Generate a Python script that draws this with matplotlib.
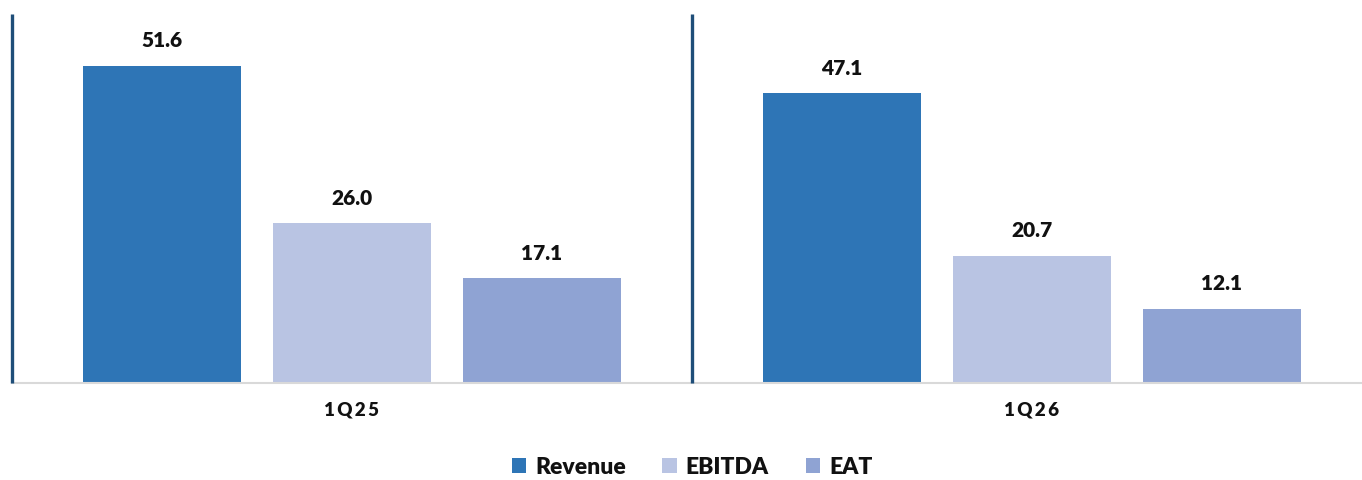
import matplotlib
matplotlib.use("Agg")
import matplotlib.pyplot as plt
import numpy as np

categories = ["1Q25", "1Q26"]
series_names = ["Revenue", "EBITDA", "EAT"]
revenue = [51.6, 47.1]
ebitda = [26.0, 20.7]
eat = [17.1, 12.1]
colors = ["#2E75B6", "#B9C4E3", "#8FA3D3"]

plt.rcParams['font.family'] = ['Lato', 'DejaVu Sans']
WEIGHT = "heavy"

fig = plt.figure(figsize=(13.62, 4.8), dpi=100)
W, H = 1362, 480
ax = fig.add_axes([12 / W, (H - 383) / H, 1350 / W, (383 - 14) / H])

x = np.arange(len(categories))
width = 158 / 680
offsets = [-190 / 680, 0, 190 / 680]
all_series = [revenue, ebitda, eat]

for vals, off, col, name in zip(all_series, offsets, colors, series_names):
    bars = ax.bar(x + off, vals, width, color=col, label=name, zorder=2)
    for b, v in zip(bars, vals):
        ax.annotate(f"{v:.1f}", (b.get_x() + b.get_width() / 2, v),
                    xytext=(0, 11), textcoords="offset points",
                    ha="center", va="bottom", fontsize=15, fontweight=WEIGHT,
                    color="#111111")

ax.set_xlim(-0.5, -0.5 + 1350 / 680)
ax.set_ylim(0, 60)

for s in ["top", "right", "left"]:
    ax.spines[s].set_visible(False)
ax.spines["bottom"].set_color("#D9D9D9")
ax.spines["bottom"].set_linewidth(1.5)
ax.set_yticks([])
ax.tick_params(axis="x", length=0, pad=13)
ax.set_xticks(x)
ax.set_xticklabels(["\u2009".join(c) for c in categories])
for t in ax.get_xticklabels():
    t.set_fontsize(13.5)
    t.set_fontweight(WEIGHT)
    t.set_color("#111111")

for xv in [-0.5, 0.5]:
    ax.plot([xv, xv], [0, 60], color="#1F4E79", linewidth=2.4, zorder=3,
            clip_on=False, solid_capstyle="butt")

handles, labels = ax.get_legend_handles_labels()
leg = fig.legend(handles, labels, loc="center", bbox_to_anchor=(692 / W, (H - 467) / H),
                 ncol=3, frameon=False, handlelength=0.62, handleheight=0.62,
                 handletextpad=0.4, columnspacing=1.6, prop={"weight": WEIGHT, "size": 16.5})
for t in leg.get_texts():
    t.set_color("#111111")

fig.savefig("out.png", dpi=100)
